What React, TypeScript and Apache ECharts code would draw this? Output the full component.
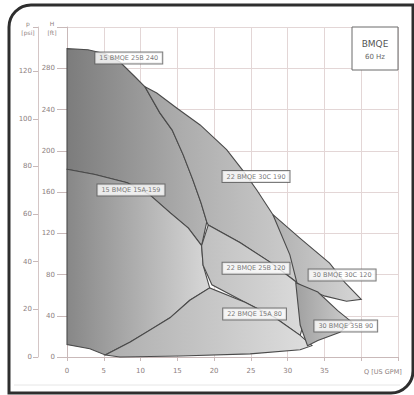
import React, { useEffect, useRef } from "react";
import * as echarts from "echarts";

// Operating ranges, [Q US GPM, H ft]
const range25B240: number[][] = [
  [0, 299], [2.85, 298], [5.2, 294], [7.2, 286], [9.2, 272], [10.6, 262], [12.6, 237], [14.3, 220],
  [15.8, 196], [17.1, 172], [18.2, 150], [19.0, 131], [18.3, 108], [16.5, 125], [14.0, 140],
  [11.3, 157], [8.2, 169], [3.8, 177], [0, 182],
];
const range30C190: number[][] = [
  [10.6, 262], [12.2, 256], [15.0, 241], [18.1, 225], [21.7, 201], [24.0, 180], [25.8, 162], [28.0, 138],
  [30.3, 113], [33.4, 87], [34.1, 76], [31.3, 72], [27.6, 92], [23.5, 111], [19.2, 128], [19.0, 131],
  [18.2, 150], [17.1, 172], [15.8, 196], [14.3, 220], [12.6, 237],
];
const range15A159: number[][] = [
  [0, 182], [3.8, 177], [8.2, 169], [11.3, 157], [14.0, 140], [16.5, 125], [18.3, 108], [18.5, 89], [19.4, 67],
  [16.7, 55], [14.0, 38], [11.3, 26], [8.6, 14.5], [5.2, 2], [3.1, 8], [0, 12],
];
const range25B120: number[][] = [
  [19.2, 128], [23.5, 111], [27.6, 92], [31.3, 72], [33.0, 55], [32.3, 36], [31.7, 21], [28.3, 38],
  [24.2, 53], [19.7, 70], [18.5, 89], [18.3, 108],
];
const range15A80: number[][] = [
  [8.6, 14.5], [14.0, 38], [16.7, 55], [19.4, 67], [24.2, 53], [28.3, 38], [31.7, 21], [33.3, 11],
  [31.7, 7], [24.9, 3], [15.4, 1], [7.2, 0], [5.2, 2],
];
const range30C120: number[][] = [
  [28.0, 138], [31.7, 115], [35.7, 91], [37.8, 72], [40.0, 56], [38.0, 54], [35.1, 59], [32.3, 67],
  [31.25, 72], [30.3, 99],
];
const range35B90: number[][] = [
  [31.1, 72], [34.1, 63], [36.8, 45], [38.7, 34], [37.1, 24], [34.1, 16], [32.7, 11], [31.7, 31],
];

const pumpNames = [
  "15 BMQE 25B 240", "22 BMQE 30C 190", "15 BMQE 15A-159", "22 BMQE 25B 120",
  "30 BMQE 30C 120", "22 BMQE 15A 80", "30 BMQE 35B 90",
];
const labelQ = [8.4, 25.7, 8.7, 25.7, 37.4, 25.5, 37.9];
const labelH = [290, 175, 162, 86, 79.5, 41.7, 30];

const qTicks = [0, 5, 10, 15, 20, 25, 30, 35];
const hTicks = [0, 40, 80, 120, 160, 200, 240, 280];
const pTicks = [0, 20, 40, 60, 80, 100, 120];

const FT_PER_PSI = 2.31;
const H_MAX = 320;

const shapes = [
  { pts: range25B240, c0: "#7c7c7c", c1: "#b4b4b4" },
  { pts: range30C190, c0: "#a2a2a2", c1: "#d2d2d2" },
  { pts: range15A159, c0: "#878787", c1: "#d8d8d8" },
  { pts: range25B120, c0: "#c0c0c0", c1: "#dcdcdc" },
  { pts: range15A80, c0: "#aeaeae", c1: "#dedede" },
  { pts: range30C120, c0: "#b0b0b0", c1: "#d6d6d6" },
  { pts: range35B90, c0: "#a0a0a0", c1: "#cecece" },
];

const tickColor = "#8d8080";
const gridColor = "#e3d6d6";

export default function App() {
  const ref = useRef<HTMLDivElement>(null);
  useEffect(() => {
    const chart = echarts.init(ref.current!, undefined, { renderer: "svg" });
    const polySeries = shapes.map((s, i) => ({
      type: "custom",
      name: pumpNames[i],
      xAxisIndex: 0,
      yAxisIndex: 0,
      data: s.pts,
      z: 2 + i,
      silent: true,
      renderItem: (params: any, api: any) => {
        if (params.dataIndex !== 0) return null;
        const points = s.pts.map((p) => api.coord(p));
        return {
          type: "polygon",
          shape: { points },
          style: {
            fill: new echarts.graphic.LinearGradient(0, 0, 1, 0, [
              { offset: 0, color: s.c0 },
              { offset: 1, color: s.c1 },
            ]),
            stroke: "#4a4a4a",
            lineWidth: 1.1,
          },
        };
      },
    }));
    chart.setOption({
      animation: false,
      backgroundColor: "#ffffff",
      grid: { left: 67, top: 27, right: 16, bottom: 38 },
      xAxis: {
        type: "value",
        min: 0,
        max: 45,
        interval: 5,
        axisLine: { show: true, lineStyle: { color: "#c9b9b9" } },
        axisTick: { show: true, length: 4, lineStyle: { color: "#c9b9b9" } },
        axisLabel: {
          margin: 10,
          fontSize: 7,
          color: tickColor,
          fontFamily: "DejaVu Sans",
          formatter: (v: number) => (qTicks.includes(v) ? String(v) : ""),
        },
        splitLine: { show: true, lineStyle: { color: gridColor, width: 1 } },
      },
      yAxis: [
        {
          type: "value",
          position: "left",
          min: 0,
          max: H_MAX,
          interval: 40,
          axisLine: { show: true, lineStyle: { color: "#c9b9b9" } },
          axisTick: { show: true, length: 10, lineStyle: { color: "#c9b9b9" } },
          axisLabel: {
            margin: 12,
            fontSize: 7,
            color: tickColor,
            fontFamily: "DejaVu Sans",
            formatter: (v: number) => (hTicks.includes(v) ? String(v) : ""),
          },
          splitLine: { show: true, lineStyle: { color: gridColor, width: 1 } },
        },
        {
          type: "value",
          position: "left",
          offset: 29,
          min: 0,
          max: H_MAX / FT_PER_PSI,
          interval: 20,
          axisLine: { show: true, lineStyle: { color: "#d4c6c6" } },
          axisTick: { show: true, length: 5, lineStyle: { color: "#c9b9b9" } },
          axisLabel: {
            margin: 6,
            fontSize: 7,
            color: tickColor,
            fontFamily: "DejaVu Sans",
            formatter: (v: number) => (pTicks.includes(Math.round(v)) && Math.abs(v - Math.round(v)) < 1e-6 ? String(v) : ""),
          },
          splitLine: { show: false },
        },
      ],
      series: [
        ...polySeries,
        {
          type: "scatter",
          xAxisIndex: 0,
          yAxisIndex: 0,
          z: 20,
          symbolSize: 0,
          silent: true,
          data: pumpNames.map((n, i) => [labelQ[i], labelH[i], n]),
          label: {
            show: true,
            position: "inside",
            formatter: (p: any) => p.value[2],
            fontSize: 6.5,
            fontFamily: "DejaVu Sans",
            color: "#555555",
            backgroundColor: "#ffffff",
            borderColor: "#5a5a5a",
            borderWidth: 1,
            padding: [2, 4, 2, 4],
          },
        },
      ],
      graphic: [
        {
          type: "rect",
          shape: { x: 352, y: 27, width: 46, height: 43 },
          style: { fill: "#ffffff", stroke: "#6a6a6a", lineWidth: 1 },
          z: 30,
        },
        {
          type: "text",
          x: 375,
          y: 44,
          style: { text: "BMQE", fontSize: 9, fontFamily: "DejaVu Sans", fill: "#555", align: "center", verticalAlign: "middle" },
          z: 31,
        },
        {
          type: "text",
          x: 375,
          y: 57,
          style: { text: "60 Hz", fontSize: 7, fontFamily: "DejaVu Sans", fill: "#666", align: "center", verticalAlign: "middle" },
          z: 31,
        },
        {
          type: "text",
          x: 28,
          y: 28,
          style: { text: "p\n[psi]", fontSize: 6, lineHeight: 9, fontFamily: "DejaVu Sans", fill: tickColor, align: "center", verticalAlign: "middle" },
        },
        {
          type: "text",
          x: 52,
          y: 28,
          style: { text: "H\n[ft]", fontSize: 6, lineHeight: 9, fontFamily: "DejaVu Sans", fill: tickColor, align: "center", verticalAlign: "middle" },
        },
        {
          type: "text",
          x: 383,
          y: 372,
          style: { text: "Q [US GPM]", fontSize: 6.5, fontFamily: "DejaVu Sans", fill: tickColor, align: "center", verticalAlign: "middle" },
        },
        {
          type: "line",
          shape: { x1: 14, y1: 385, x2: 400, y2: 385 },
          style: { stroke: "#e6e6e6", lineWidth: 1 },
        },
        {
          type: "rect",
          shape: { x: 9, y: 5, width: 404, height: 388, r: [22, 0, 22, 0] },
          style: { fill: "none", stroke: "#2e2e2e", lineWidth: 3 },
          z: 40,
        },
      ],
    });
    return () => chart.dispose();
  }, []);
  return <div ref={ref} style={{ position: "absolute", left: 0, top: 0, width: 414, height: 395 }} />;
}
